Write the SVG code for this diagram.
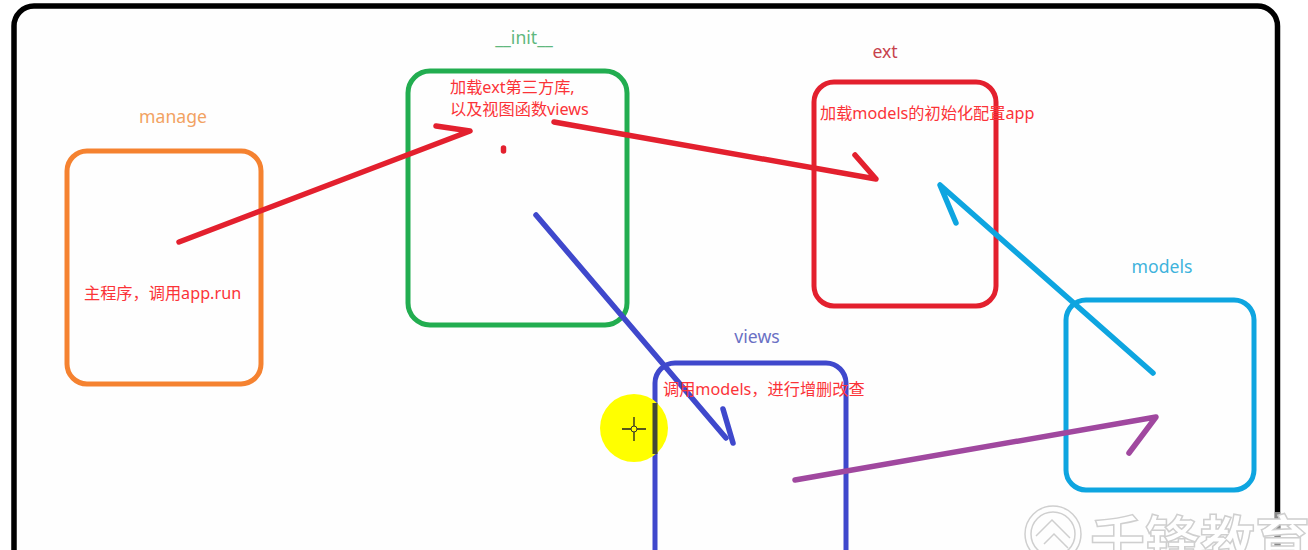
<svg xmlns="http://www.w3.org/2000/svg" width="1308" height="550" viewBox="0 0 1308 550">
<style>
.box{fill:none;stroke-width:5}
.c{fill:none;stroke-linecap:round;stroke-linejoin:round;stroke-width:5.5}
.t{font-family:"Noto Sans","Noto Sans CJK SC",sans-serif;font-size:16.2px;fill:#fb3338}
.n{font-family:"Noto Sans","Noto Sans CJK SC",sans-serif;font-size:17.6px}
.wm{font-family:"Noto Sans CJK SC",sans-serif;font-size:55px;font-weight:700;fill:#fff;stroke:#cfcfcf;stroke-width:1.5}
.wl{fill:none;stroke:#cfcfcf;stroke-width:1.5}
</style>
<rect width="1308" height="550" fill="#fff"/>
<rect id="frame" x="14" y="6" width="1263.5" height="600" rx="20" fill="#fefefe" stroke="#000" stroke-width="5.5"/>
<g id="manage"><rect class="box" x="67" y="151" width="194" height="233" rx="20" stroke="#f58230"/>
<text class="n" x="173" y="123" text-anchor="middle" fill="#f2a262">manage</text>
<text class="t" x="84" y="299">主程序，调用app.run</text></g>
<g id="init"><rect class="box" x="408" y="71" width="219" height="254" rx="22" stroke="#22ad50"/>
<text class="n" x="524" y="44" text-anchor="middle" fill="#5fb87e">__init__</text>
<text class="t" x="450" y="93">加载ext第三方库,</text>
<text class="t" x="450" y="115">以及视图函数views</text></g>
<g id="ext"><rect class="box" x="814" y="82" width="182" height="224" rx="20" stroke="#e3202e"/>
<text class="n" x="885" y="58" text-anchor="middle" fill="#c7424c">ext</text>
<text class="t" x="820" y="119">加载models的初始化配置app</text></g>
<g id="views"><rect class="box" x="655" y="363" width="191" height="220" rx="20" stroke="#3f48cc"/>
<text class="n" x="757" y="343" text-anchor="middle" fill="#6a70c4">views</text></g>
<g id="models"><rect class="box" x="1066" y="300" width="188" height="190" rx="20" stroke="#0ea5e0"/>
<text class="n" x="1162" y="273" text-anchor="middle" fill="#3fb3dc">models</text></g>
<g id="connectors">
<path class="c" stroke="#e3202e" d="M179 242L470 131L436 126"/>
<path class="c" stroke="#e3202e" d="M503.5 148L503.5 151"/>
<path class="c" stroke="#e3202e" d="M554 122L876 179L855 155"/>
<path class="c" stroke="#3f48cc" d="M536 215L726 438"/>
<path class="c" stroke="#3f48cc" d="M723 409L733 443"/>
<path class="c" stroke="#0ea5e0" d="M1153 373L940 185L956 223"/>
<path class="c" stroke="#a0489f" d="M795 480L1156 417L1129 453"/>
</g>
<text class="t" x="663" y="395">调用models，进行增删改查</text>
<g id="cursor">
<circle cx="634" cy="428" r="34" fill="#ffff00"/>
<path d="M622 429H646M634 417V441" stroke="#222" stroke-width="1.3"/>
<circle cx="634" cy="429" r="3" fill="#ff0" stroke="#333" stroke-width="1"/>
</g>
<path d="M655 403V454" stroke="#434a35" stroke-width="5"/>
<path d="M1277.5 512V550" stroke="#8a8a8a" stroke-width="5.5"/>
<g id="watermark">
<text class="wm" x="1090" y="561" textLength="220">千锋教育</text>
<circle class="wl" cx="1053" cy="534" r="28"/>
<circle class="wl" cx="1053" cy="534" r="22"/>
<path class="wl" d="M1036 536L1052 520L1070 538M1044 544L1054 534L1068 548"/>
</g>
</svg>
